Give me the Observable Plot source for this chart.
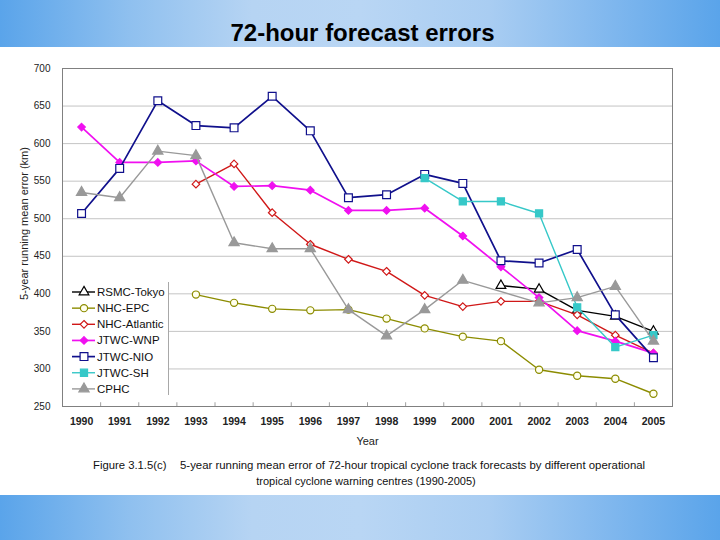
<!DOCTYPE html>
<html>
<head>
<meta charset="utf-8">
<script src="https://cdn.jsdelivr.net/npm/d3@7"></script>
<script src="https://cdn.jsdelivr.net/npm/@observablehq/plot@0.6"></script>
<style>
  html, body { margin: 0; padding: 0; }
  body { width: 720px; height: 540px; overflow: hidden; font-family: "Liberation Sans", Arial, sans-serif; }
  #page { position: relative; width: 720px; height: 540px;
    background: linear-gradient(to right, #5aa4ea 0%, #8fc0ef 18%, #b6d4f3 35%, #b9d6f4 50%, #a9cdf2 68%, #7fb7ee 85%, #5aa4ea 100%); }
  #title { position: absolute; left: 0; width: 725px; top: 19px; text-align: center; font-size: 24px; font-weight: bold; color: #000; line-height: 28px; }
  #panel { position: absolute; left: 0; top: 47px; width: 720px; height: 448px; background: #fff; }
  #chart { position: absolute; left: 0; top: 0; }
  #chart svg { overflow: visible; }
  #chart g[aria-label="x-axis tick label"] text { font-weight: bold; }
  #legend { position: absolute; left: 63px; top: 235px; width: 105px; height: 113px; background: #fff; border-right: 1px solid #a8a8a8; }
  .cap { position: absolute; font-size: 11px; color: #111; white-space: nowrap; line-height: 14px; }
</style>
</head>
<body>
<div id="page">
  <div id="title">72-hour forecast errors</div>
  <div id="panel">
    <div id="chart"></div>
    <div id="legend"></div>
    <div class="cap" style="left:93px; top:411px; font-size:11.3px;">Figure 3.1.5(c)</div>
    <div class="cap" style="left:180px; top:411px; font-size:11.4px;">5-year running mean error of 72-hour tropical cyclone track forecasts by different operational</div>
    <div class="cap" style="left:0; width:732px; text-align:center; top:427px;">tropical cyclone warning centres (1990-2005)</div>
  </div>
</div>
<script>
// ---- data ----
const years = [1990, 1991, 1992, 1993, 1994, 1995, 1996, 1997, 1998, 1999, 2000, 2001, 2002, 2003, 2004, 2005];
const yTicks = [250, 300, 350, 400, 450, 500, 550, 600, 650, 700];
const seriesNames = ["RSMC-Tokyo", "NHC-EPC", "NHC-Atlantic", "JTWC-WNP", "JTWC-NIO", "JTWC-SH", "CPHC"];
const rsmcTokyo   = [null, null, null, null, null, null, null, null, null, null, null, 411, 406, 378, 370, 350];
const nhcEpc      = [null, null, null, 399, 388, 380, 378, 379, 367, 354, 343, 337, 299, 291, 287, 267];
const nhcAtlantic = [null, null, null, 546, 573, 508, 466, 446, 430, 398, 383, 390, 390, 372, 345, 321];
const jtwcWnp     = [622, 575, 575, 577, 543, 544, 538, 511, 511, 514, 477, 436, 395, 351, 337, 321];
const jtwcNio     = [507, 567, 657, 624, 621, 663, 617, 528, 532, 559, 547, 444, 441, 459, 372, 315];
const jtwcSh      = [null, null, null, null, null, null, null, null, null, 554, 523, 523, 507, 382, 329, 345];
const cphc        = [535, 528, 590, 584, 468, 460, 460, 379, 344, 379, 418, null, 388, 395, 410, 337];

// ---- styles (separate from data) ----
const styles = {
  "RSMC-Tokyo":   {color: "#000000", symbol: "triangle", fill: "#ffffff", r: 3.6, sw: 1.4},
  "NHC-EPC":      {color: "#8c8c00", symbol: "circle",   fill: "#ffffee", r: 3.6, sw: 1.4},
  "NHC-Atlantic": {color: "#d01818", symbol: "diamond2", fill: "#ffffff", r: 3.4, sw: 1.4},
  "JTWC-WNP":     {color: "#f010f0", symbol: "diamond2", fill: "#f010f0", r: 3.4, sw: 1.7},
  "JTWC-NIO":     {color: "#10108c", symbol: "square",   fill: "#ffffff", r: 4.4, sw: 1.7},
  "JTWC-SH":      {color: "#36c8c8", symbol: "square",   fill: "#36c8c8", r: 4.0, sw: 1.4},
  "CPHC":         {color: "#999999", symbol: "triangle", fill: "#999999", r: 3.8, sw: 1.4}
};
const seriesValues = [rsmcTokyo, nhcEpc, nhcAtlantic, jtwcWnp, jtwcNio, jtwcSh, cphc];

const rows = [];
seriesNames.forEach((name, k) => {
  seriesValues[k].forEach((v, i) => { if (v != null) rows.push({series: name, year: years[i], value: v}); });
});
const boundaries = years.slice(1).map(y => y - 0.5);

const seriesMarks = seriesNames.flatMap(name => {
  const s = styles[name];
  const d = rows.filter(r => r.series === name);
  return [
    Plot.line(d, {x: "year", y: "value", stroke: s.color, strokeWidth: s.sw}),
    Plot.dot(d, {x: "year", y: "value", symbol: () => s.symbol, fill: s.fill, stroke: s.color, strokeWidth: 1.2, r: s.r})
  ];
});

const chart = Plot.plot({
  width: 720,
  height: 409,
  marginTop: 21,
  marginBottom: 50,
  marginLeft: 62,
  marginRight: 48,
  style: {fontFamily: "Liberation Sans, Arial, sans-serif", background: "transparent", color: "#222"},
  x: {type: "linear", domain: [years[0] - 0.5, years[years.length - 1] + 0.5]},
  y: {domain: [yTicks[0], yTicks[yTicks.length - 1]]},
  symbol: {type: "identity"},
  marks: [
    Plot.gridY(yTicks, {stroke: "#c4c4c4", strokeOpacity: 1}),
    Plot.ruleX(boundaries, {y1: yTicks[0], y2: yTicks[0] + 5, stroke: "#a0a0a0"}),
    Plot.axisY(yTicks, {tickSize: 0, tickPadding: 12, fontSize: 10, label: null, tickFormat: d => String(d)}),
    Plot.axisX(years, {tickSize: 0, tickPadding: 11, fontSize: 10.5, label: null, tickFormat: d => String(d)}),
    Plot.text(["5-year running mean error (km)"], {frameAnchor: "left", dx: -38, dy: -14, rotate: -90, textAnchor: "middle", lineAnchor: "middle", fontSize: 11}),
    Plot.text(["Year"], {frameAnchor: "bottom", dy: 35, textAnchor: "middle", lineAnchor: "middle", fontSize: 11}),
    ...seriesMarks,
    Plot.frame({stroke: "#808080"})
  ]
});
document.getElementById("chart").appendChild(chart);

// ---- legend ----
const lg = d3.select("#legend").append("svg").attr("width", 105).attr("height", 113).style("overflow", "visible");
const symGen = {triangle: d3.symbolTriangle, circle: d3.symbolCircle, diamond2: d3.symbolDiamond2, square: d3.symbolSquare};
seriesNames.forEach((name, i) => {
  const s = styles[name];
  const cy = 10 + i * 16.15;
  const g = lg.append("g").attr("transform", `translate(0,${cy})`);
  g.append("line").attr("x1", 9).attr("x2", 32).attr("y1", 0).attr("y2", 0).attr("stroke", s.color).attr("stroke-width", s.sw);
  g.append("path").attr("transform", "translate(21,0)")
    .attr("d", d3.symbol(symGen[s.symbol], Math.PI * s.r * s.r)())
    .attr("fill", s.fill).attr("stroke", s.color).attr("stroke-width", 1.2);
  g.append("text").attr("x", 34).attr("y", 0).attr("dy", "0.35em")
    .attr("font-size", 11.5).attr("font-family", "Liberation Sans, Arial, sans-serif").attr("fill", "#111").text(name);
});
</script>
</body>
</html>
